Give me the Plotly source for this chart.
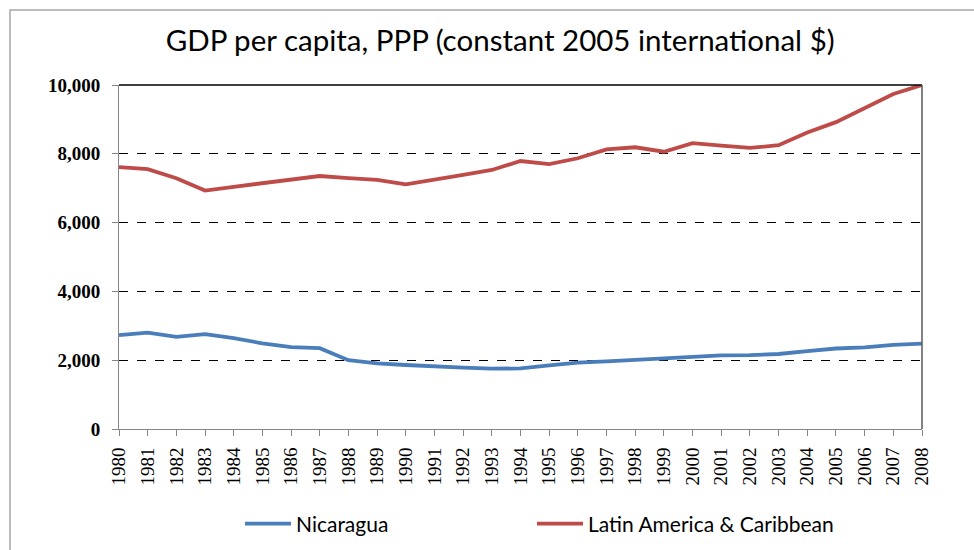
import plotly.graph_objects as go

# GDP per capita, PPP (constant 2005 international $)
years = list(range(1980, 2009))

nicaragua = [2730, 2800, 2680, 2760, 2640, 2490, 2380, 2350, 2000, 1910,
             1860, 1815, 1785, 1755, 1760, 1850, 1930, 1965, 2005, 2065,
             2105, 2140, 2145, 2180, 2265, 2340, 2375, 2445, 2480]

latin_america = [7610, 7555, 7290, 6930, 7040, 7150, 7250, 7355, 7290, 7240,
                 7110, 7260, 7390, 7530, 7790, 7700, 7870, 8130, 8190, 8060,
                 8310, 8240, 8170, 8250, 8620, 8920, 9320, 9740, 10000]

y_ticks = [0, 2000, 4000, 6000, 8000, 10000]

title_text = "GDP per capita, PPP (constant 2005 international $)"

fig = go.Figure()
fig.add_trace(go.Scatter(
    x=years, y=nicaragua, mode="lines", name="Nicaragua",
    line=dict(color="#4a7ebb", width=3.8), legend="legend",
))
fig.add_trace(go.Scatter(
    x=years, y=latin_america, mode="lines", name="Latin America & Caribbean",
    line=dict(color="#be4b48", width=3.8), legend="legend2",
))

W, H = 974, 550
L, R, T, B = 119, 52, 85, 121
pw, ph = W - L - R, H - T - B

def px_x(p):
    return (p - L) / pw

def px_y(p):
    return (H - B - p) / ph

legend_style = dict(
    orientation="h", xanchor="left", yanchor="middle", itemwidth=46,
    font=dict(family="Lato", size=21, color="black"), bgcolor="rgba(0,0,0,0)",
)

fig.update_layout(
    width=W, height=H,
    margin=dict(l=L, r=R, t=T, b=B, pad=0, autoexpand=False),
    paper_bgcolor="white", plot_bgcolor="white",
    font=dict(family="Liberation Serif", color="black"),
    title=dict(text=title_text, x=0.5135, xanchor="center", y=1 - 41 / H, yanchor="middle",
               font=dict(family="Lato", size=29.5, color="black")),
    xaxis=dict(
        range=[1980, 2008], tickmode="array", tickvals=years,
        ticktext=[str(y) for y in years], tickangle=-90,
        ticks="outside", ticklen=6, tickcolor="#868686",
        ticklabelstandoff=4,
        showline=True, linecolor="#868686", linewidth=1,
        showgrid=False, zeroline=False,
        tickfont=dict(family="Liberation Serif", size=19, color="black"),
    ),
    yaxis=dict(
        range=[0, 10000], tickmode="array", tickvals=y_ticks,
        tickformat=",d", ticks="outside", ticklen=6, tickcolor="#868686",
        ticklabelstandoff=8,
        showline=True, linecolor="#868686", linewidth=1,
        showgrid=True, gridcolor="black", griddash="dash", gridwidth=1,
        zeroline=False,
        tickfont=dict(family="Liberation Serif", size=19, color="black", weight="bold"),
    ),
    legend=dict(legend_style, x=px_x(240), y=px_y(524)),
    legend2=dict(legend_style, x=px_x(532), y=px_y(524)),
    showlegend=True,
)

# chart frame, plot top edge and right edge
fig.add_shape(type="rect", xref="paper", yref="paper",
              x0=px_x(10), x1=px_x(990), y0=px_y(570), y1=px_y(10),
              line=dict(color="#a6a6a6", width=1.5), fillcolor="rgba(0,0,0,0)", layer="below")
fig.add_shape(type="line", xref="paper", yref="paper", x0=0, x1=1, y0=1, y1=1,
              line=dict(color="black", width=1.5))
fig.add_shape(type="line", xref="paper", yref="paper", x0=1, x1=1, y0=0, y1=1,
              line=dict(color="#595959", width=1.5))

fig.write_html("out.html")
